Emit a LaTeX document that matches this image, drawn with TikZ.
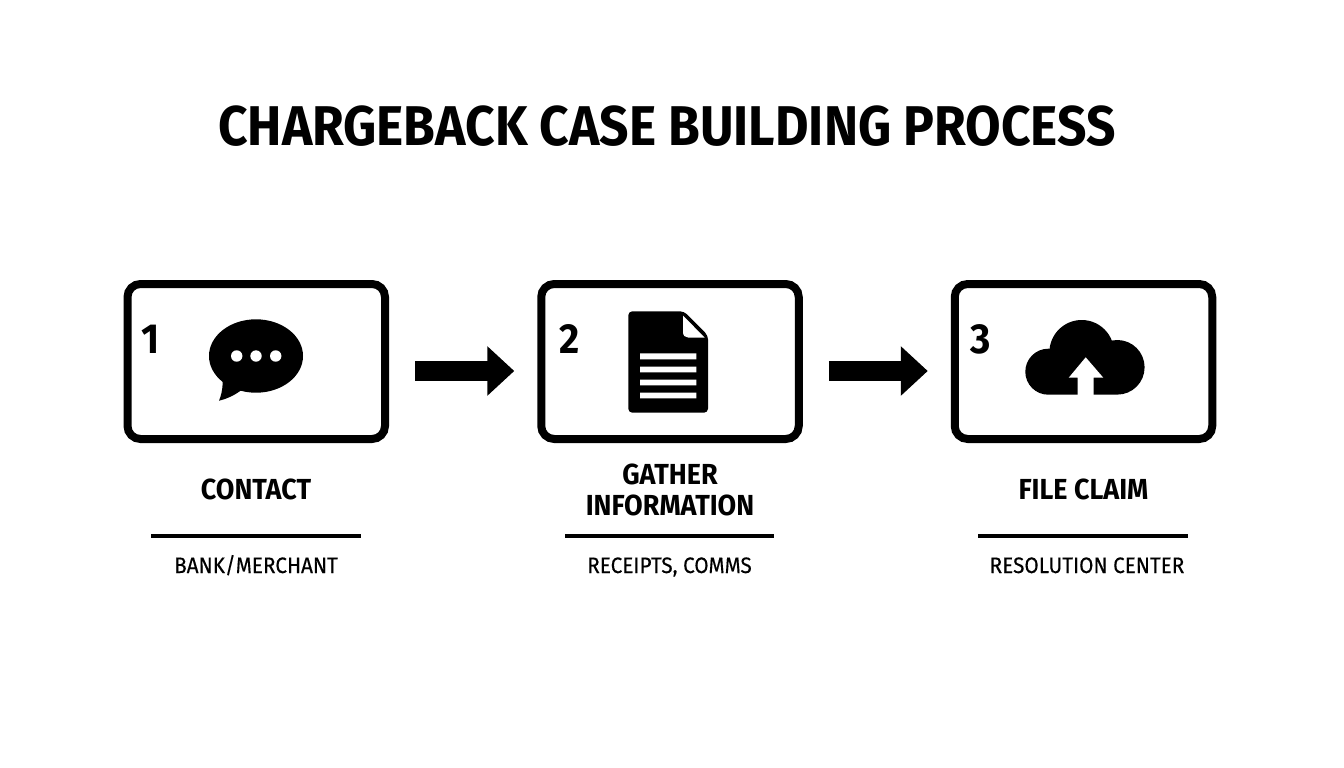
\documentclass[tikz,border=0pt]{standalone}
\usepackage{fontspec}
\setmainfont[FakeStretch=0.93]{Fira Sans}
\newfontfamily\subfont[FakeStretch=0.93,FakeBold=0.25]{Fira Sans}
\newfontfamily\titlefont[FakeStretch=0.92,BoldFont={Fira Sans Bold}]{Fira Sans}
\usetikzlibrary{arrows.meta}
\tikzset{
  card/.style={draw=black,line width=8pt,rounded corners=13pt,fill=white,minimum width=257.5pt,minimum height=155pt,inner sep=0pt},
  flow/.style={draw=black,line width=20pt,-{Triangle[length=27pt,width=48pt]},shorten <=26pt,shorten >=23pt},
  rulel/.style={draw=black,line width=4pt},
  titletext/.style={anchor=base,font=\titlefont\bfseries\fontsize{56}{56}\selectfont,inner sep=0pt},
  numtext/.style={anchor=base,font=\bfseries\fontsize{42}{42}\selectfont,inner sep=0pt},
  headtext/.style={anchor=base,align=center,font=\bfseries\fontsize{29}{31}\selectfont,inner sep=0pt},
  subtext/.style={anchor=base,font=\subfont\fontsize{22.3}{23}\selectfont,inner sep=0pt}
}
\begin{document}
\begin{tikzpicture}[x=1pt,y=-1pt]
\useasboundingbox (0,0) rectangle (1344,768);
\fill[white] (0,0) rectangle (1344,768);
\node[titletext] (title) at (667,145) {CHARGEBACK CASE BUILDING PROCESS};
% cards
\node[card] (c1) at (256.25,361.5) {};
\node[card] (c2) at (670,361.5) {};
\node[card] (c3) at (1083.5,361.5) {};
% arrows
\draw[flow] ([yshift=-9.5pt]c1.east) -- ([yshift=-9.5pt]c2.west);
\draw[flow] ([yshift=-9.5pt]c2.east) -- ([yshift=-9.5pt]c3.west);
% numbers
\node[numtext] (n1) at (151,353) {1};
\node[numtext] (n2) at (569.5,353) {2};
\node[numtext] (n3) at (981,353) {3};
% bubble
\fill[black] (256,356) ellipse [x radius=47pt,y radius=36.7pt];
\fill[black] (222.7,378) -- (222.7,383) .. controls (222.5,390) and (221,396) .. (219,400.7) .. controls (228,398.5) and (235,395) .. (243,389) -- (250,380) -- cycle;
\fill[white] (236.7,356) circle [radius=5.7pt] (256,356) circle [radius=5.7pt] (275.7,356) circle [radius=5.7pt];
% document
\fill[black,rounded corners=4pt] (628.3,311.3) -- (684,311.3) -- (708,335.5) -- (708,412.7) -- (628.3,412.7) -- cycle;
\fill[white] (683,315.5) -- (704.5,337.5) -- (688,337.5) .. controls (685,337.5) and (683,335.5) .. (683,332) -- cycle;
\fill[white] (640,353.3) rectangle (696.3,359.3) (640,366.7) rectangle (696.3,372.3) (640,379.7) rectangle (696.3,385.3) (640,392.7) rectangle (696.3,398.3);
% cloud
\fill[black] (1048.3,371.7) circle [radius=23pt] (1117.3,367.3) circle [radius=27.3pt] (1081.7,352.3) circle [radius=32.3pt] (1048.3,355) rectangle (1117.3,394.7);
\fill[white] (1085.7,357.3) -- (1103.3,377.7) -- (1093.7,377.7) -- (1093.7,395.5) -- (1077.7,395.5) -- (1077.7,377.7) -- (1068.7,377.7) -- cycle;
% labels
\node[headtext] (h1) at (256,499) {CONTACT};
\node[headtext] (h2) at (670,515) {GATHER\\INFORMATION};
\node[headtext] (h3) at (1083.5,499) {FILE CLAIM};
% rules
\coordinate (r1a) at (151,535.7); \coordinate (r1b) at (361,535.7);
\coordinate (r2a) at (565,535.7); \coordinate (r2b) at (774,535.7);
\coordinate (r3a) at (978,535.7); \coordinate (r3b) at (1188,535.7);
\draw[rulel] (r1a) -- (r1b);
\draw[rulel] (r2a) -- (r2b);
\draw[rulel] (r3a) -- (r3b);
% sublabels
\node[subtext] (s1) at (256,573) {BANK/MERCHANT};
\node[subtext] (s2) at (669.5,573) {RECEIPTS, COMMS};
\node[subtext] (s3) at (1087,573) {RESOLUTION CENTER};
\end{tikzpicture}
\end{document}
